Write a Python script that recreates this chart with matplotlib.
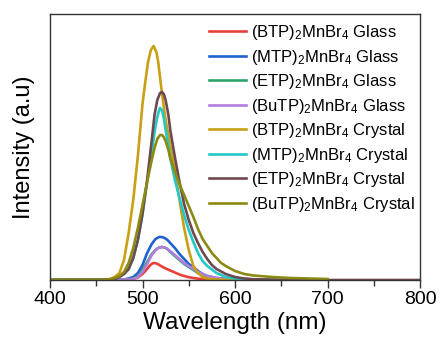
import matplotlib
matplotlib.use("Agg")
import matplotlib.pyplot as plt
from matplotlib.ticker import MultipleLocator

plt.rcParams['font.family'] = ['Liberation Sans', 'DejaVu Sans']

# Emission spectra: wavelength (nm) and intensity (a.u.)
btp_glass_wl = [400, 480, 490, 495, 500, 505, 508, 511, 513, 516, 520, 525, 530, 535, 540, 545, 550, 555, 560, 570, 580, 600, 700]
btp_glass_i = [0, 0.3, 1, 2.5, 6, 11, 14.5, 16.8, 17, 16.2, 14, 11.5, 9.5, 7.5, 5.5, 4, 2.8, 2, 1.3, 0.6, 0.3, 0, 0]

mtp_glass_wl = [400, 480, 485, 490, 495, 500, 505, 510, 514, 518, 521, 524, 527, 530, 535, 540, 545, 550, 555, 560, 565, 570, 580, 590, 600, 620, 700]
mtp_glass_i = [0, 0.5, 1.5, 3, 7, 15, 27, 36, 41, 43, 43, 42, 40, 37, 32, 26, 21, 16, 13, 9, 6, 4, 2, 1, 0.5, 0, 0]

etp_glass_wl = [400, 485, 490, 495, 500, 505, 510, 515, 518, 521, 524, 527, 530, 535, 540, 545, 550, 555, 560, 565, 570, 580, 590, 600, 620, 700]
etp_glass_i = [0, 0.5, 1.5, 4, 10, 18, 26, 31, 32.5, 33, 32.5, 31, 28, 24, 20, 16, 13, 10, 7, 5, 3, 1.5, 0.7, 0.3, 0, 0]

butp_glass_wl = [400, 485, 490, 495, 500, 505, 510, 515, 518, 521, 524, 527, 530, 535, 540, 545, 550, 555, 560, 565, 570, 580, 590, 600, 620, 700]
butp_glass_i = [0, 0.5, 1, 3, 8, 16, 25, 30.5, 32.5, 33, 32.5, 31, 29, 25, 21, 17, 14, 11, 8, 6, 4, 2, 1, 0.5, 0, 0]

btp_crystal_wl = [400, 460, 465, 470, 475, 480, 485, 490, 495, 500, 503, 506, 509, 512, 515, 517, 519, 522, 525, 530, 535, 540, 545, 550, 555, 560, 565, 570, 580, 600, 700]
btp_crystal_i = [0, 0.3, 1, 3, 7, 20, 47, 80, 124, 176, 198, 218, 230, 234, 228, 218, 202, 180, 160, 135, 110, 80, 52, 30, 14, 7, 3, 1.5, 0.5, 0, 0]

mtp_crystal_wl = [400, 465, 470, 475, 480, 485, 490, 495, 500, 505, 510, 513, 516, 518, 519, 521, 523, 525, 528, 530, 535, 540, 545, 550, 555, 560, 565, 570, 580, 590, 600, 620, 700]
mtp_crystal_i = [0, 0.3, 1, 3, 6, 11, 22, 40, 66, 98, 128, 148, 163, 170, 172, 170, 162, 150, 134, 122, 100, 82, 65, 50, 38, 27, 19, 14, 7, 3, 1.5, 0.5, 0]

etp_crystal_wl = [400, 465, 470, 475, 480, 485, 490, 495, 500, 505, 510, 513, 516, 519, 521, 523, 525, 528, 530, 535, 540, 545, 550, 555, 560, 565, 570, 575, 580, 590, 600, 610, 620, 650, 800]
etp_crystal_i = [0, 0.3, 1, 3, 6, 11, 22, 40, 66, 100, 140, 165, 180, 187, 188, 186, 180, 165, 150, 123, 98, 76, 60, 47, 37, 28, 21, 15, 11, 6, 3, 1.5, 0.8, 0, 0]

butp_crystal_wl = [400, 460, 465, 470, 475, 480, 485, 490, 495, 500, 505, 510, 513, 516, 519, 521, 523, 525, 528, 530, 535, 540, 545, 550, 555, 560, 565, 570, 575, 580, 585, 590, 600, 610, 620, 640, 660, 680, 700]
butp_crystal_i = [0, 0.3, 1, 2, 4, 8, 17, 32, 52, 75, 98, 120, 132, 141, 145, 145, 143, 139, 130, 122, 108, 96, 85, 74, 63, 51, 41, 34, 27, 22, 17, 14, 9, 6, 4.5, 3, 2, 1.5, 1]

labels = [
    "(BTP)$\\mathregular{_2}$MnBr$\\mathregular{_4}$ Glass",
    "(MTP)$\\mathregular{_2}$MnBr$\\mathregular{_4}$ Glass",
    "(ETP)$\\mathregular{_2}$MnBr$\\mathregular{_4}$ Glass",
    "(BuTP)$\\mathregular{_2}$MnBr$\\mathregular{_4}$ Glass",
    "(BTP)$\\mathregular{_2}$MnBr$\\mathregular{_4}$ Crystal",
    "(MTP)$\\mathregular{_2}$MnBr$\\mathregular{_4}$ Crystal",
    "(ETP)$\\mathregular{_2}$MnBr$\\mathregular{_4}$ Crystal",
    "(BuTP)$\\mathregular{_2}$MnBr$\\mathregular{_4}$ Crystal",
]
colors = ["#e8403a", "#1f62cf", "#2fa36e", "#b27ee0", "#c9a015", "#22c9c6", "#6d4a4f", "#8c8a12"]

series = [
    (btp_glass_wl, btp_glass_i),
    (mtp_glass_wl, mtp_glass_i),
    (etp_glass_wl, etp_glass_i),
    (butp_glass_wl, butp_glass_i),
    (btp_crystal_wl, btp_crystal_i),
    (mtp_crystal_wl, mtp_crystal_i),
    (etp_crystal_wl, etp_crystal_i),
    (butp_crystal_wl, butp_crystal_i),
]

fig = plt.figure(figsize=(4.41, 3.43), dpi=100)
ax = fig.add_axes([50 / 441, 63 / 343, 370 / 441, 266 / 343])

for (wl, inten), lab, col in zip(series, labels, colors):
    ax.plot(wl, inten, color=col, lw=1.9, label=lab, solid_joinstyle='round')

ax.set_xlim(400, 800)
ax.set_ylim(0, 266)
ax.xaxis.set_major_locator(MultipleLocator(100))
ax.xaxis.set_minor_locator(MultipleLocator(50))
ax.tick_params(axis='x', which='major', direction='out', length=6, width=1, labelsize=14, pad=2, color='#333333')
ax.tick_params(axis='x', which='minor', direction='out', length=4, width=1, color='#333333')
ax.set_yticks([])
for sp in ax.spines.values():
    sp.set_color('#333333')
    sp.set_linewidth(1)

ax.set_xlabel("Wavelength (nm)", fontsize=17.5, labelpad=3)
ax.set_ylabel("Intensity (a.u)", fontsize=17, labelpad=11)

ax.legend(loc='upper left', bbox_to_anchor=(0.43, 0.966), frameon=False, fontsize=12,
          handlelength=2.2, handletextpad=0.3, labelspacing=0.33, borderaxespad=0, borderpad=0)

plt.savefig("out.png", dpi=100)
plt.close()
